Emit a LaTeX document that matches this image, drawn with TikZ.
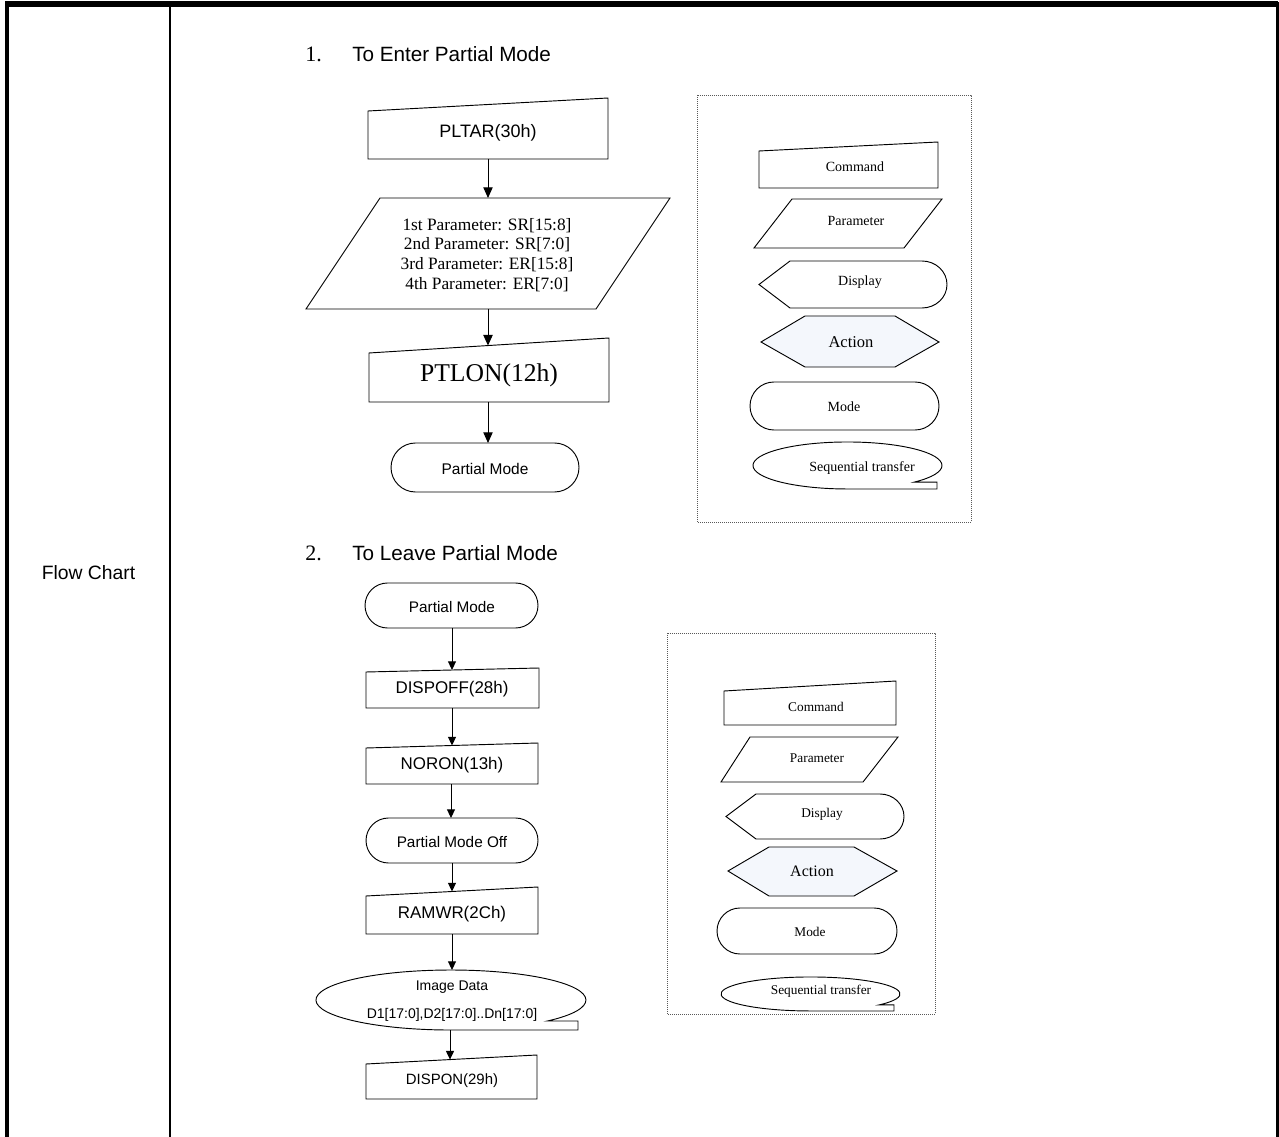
\documentclass[tikz,border=0pt]{standalone}
\usepackage{fontspec}
\setmainfont{Liberation Serif}
\newfontfamily\arialf{Liberation Sans}
\usetikzlibrary{arrows.meta}
\definecolor{actfill}{RGB}{244,247,252}
\begin{document}
\begin{tikzpicture}[x=0.75pt,y=-0.75pt,
  shp/.style={draw=black, line width=0.7pt, fill=white, line join=miter},
  arr/.style={line width=0.7pt, -{Triangle[length=8pt,width=7pt]}},
  arrs/.style={line width=0.7pt, -{Triangle[length=6.5pt,width=6pt]}},
  lbl/.style={inner sep=0pt, anchor=center},
  dotbox/.style={draw=black!65, line width=0.6pt, dash pattern=on 0.6pt off 0.9pt},
  sans/.style={font=\arialf\fontsize{#1}{#1}\selectfont},
  serif/.style={font=\fontsize{#1}{#1}\selectfont}]
\useasboundingbox (0,0) rectangle (1279,1137);
\fill[white] (0,0) rectangle (1279,1137);

% ---------- table frame ----------
\draw[line width=4.2pt] (5,4) -- (1278,4);
\draw[line width=3pt] (7,2) -- (7,1137);
\draw[line width=2.6pt] (1277.5,2) -- (1277.5,1137);
\draw[line width=1.5pt] (170,4) -- (170,1137);
\node[lbl, sans=14.5] (fc) at (88.5,573) {Flow Chart};

% ---------- headings ----------
\node[inner sep=0pt, anchor=base west, serif=16.5] (h1n) at (305,62) {1.};
\node[inner sep=0pt, anchor=base west, sans=15.5] (h1t) at (352,62) {To Enter Partial Mode};
\node[inner sep=0pt, anchor=base west, serif=16.5] (h2n) at (305,561) {2.};
\node[inner sep=0pt, anchor=base west, sans=15.5] (h2t) at (352,561) {To Leave Partial Mode};

% ---------- flow chart 1 ----------
\draw[shp] (368,111) -- (608,98) -- (608,159) -- (368,159) -- cycle;
\node[lbl, sans=13.5] (pltar) at (488,133) {PLTAR(30h)};
\coordinate (pltarB) at (488,159);

\draw[shp] (380,198) -- (670,198) -- (596,309) -- (306,309) -- cycle;
\node[lbl, align=center, font=\fontsize{13}{14.8}\selectfont] (par) at (487,255)
  {1st Parameter: SR[15:8]\\2nd Parameter: SR[7:0]\\3rd Parameter: ER[15:8]\\4th Parameter: ER[7:0]};
\coordinate (parT) at (488,198);
\coordinate (parB) at (488,309);

\draw[shp] (369,353) -- (609,338) -- (609,402) -- (369,402) -- cycle;
\node[lbl, serif=19.2] (ptlon) at (489,375) {PTLON(12h)};
\coordinate (ptlonT) at (488,345.6);
\coordinate (ptlonB) at (488,402);

\draw[shp, rounded corners=18.4pt] (391,443) rectangle (579,492);
\node[lbl, sans=11.6] (pm1) at (485,469) {Partial Mode};
\coordinate (pm1T) at (488,443);

\draw[arr] (pltarB) -- (parT);
\draw[arr] (parB) -- (ptlonT);
\draw[arr] (ptlonB) -- (pm1T);

% ---------- legend 1 ----------
\draw[dotbox] (697,95) rectangle (971,522);
\draw[shp] (759,151) -- (938,142) -- (938,188) -- (759,188) -- cycle;
\node[lbl, serif=10.5] (lc1) at (855,167) {Command};
\draw[shp] (792,199) -- (942,199) -- (904,248) -- (754,248) -- cycle;
\node[lbl, serif=10.5] (lp1) at (856,221) {Parameter};
\draw[shp] (759,284.5) -- (790,261) -- (922,261)
  arc[start angle=90, end angle=-90, x radius=18.75pt, y radius=17.625pt]
  -- (790,308) -- cycle;
\node[lbl, serif=10.5] (ld1) at (860,282) {Display};
\draw[shp, fill=actfill] (761,342) -- (805,316) -- (895,316) -- (939,342) -- (895,367) -- (805,367) -- cycle;
\node[lbl, serif=12.4] (la1) at (851,342) {Action};
\draw[shp, rounded corners=18pt] (750,382) rectangle (939,430);
\node[lbl, serif=10.5] (lm1) at (844,407) {Mode};
\draw[shp] (914.3,482.1) arc[start angle=-45, end angle=270, x radius=70.875pt, y radius=17.625pt]
  -- (937,489) -- (937,482.1) -- cycle;
\node[lbl, serif=10.5] (ls1) at (862,468) {Sequential transfer};

% ---------- flow chart 2 ----------
\draw[shp, rounded corners=16.9pt] (365,583) rectangle (538,628);
\node[lbl, sans=11.5] (pm2) at (452,607) {Partial Mode};
\coordinate (pm2B) at (452,628);

\draw[shp] (366,672) -- (539,668) -- (539,708) -- (366,708) -- cycle;
\node[lbl, sans=12.7] (dispoff) at (452,689) {DISPOFF(28h)};
\coordinate (dispoffT) at (452,670);
\coordinate (dispoffB) at (452,708);

\draw[shp] (366,748) -- (538,743) -- (538,784) -- (366,784) -- cycle;
\node[lbl, sans=12.7] (noron) at (452,765) {NORON(13h)};
\coordinate (noronT) at (452,745.5);
\coordinate (noronB) at (451,784);

\draw[shp, rounded corners=16.9pt] (366,818) rectangle (538,863);
\node[lbl, sans=11.5] (pmo) at (452,842) {Partial Mode Off};
\coordinate (pmoT) at (451,818);
\coordinate (pmoB) at (452,863);

\draw[shp] (366,896) -- (538,887) -- (538,934) -- (366,934) -- cycle;
\node[lbl, sans=12.7] (ramwr) at (452,914) {RAMWR(2Ch)};
\coordinate (ramwrT) at (452,891.5);
\coordinate (ramwrB) at (452,934);

\draw[shp] (547.4,1021) arc[start angle=-44.4, end angle=270, x radius=101.25pt, y radius=22.5pt]
  -- (578,1030) -- (578,1021) -- cycle;
\node[lbl, sans=10.5] (img1) at (452,987) {Image Data};
\node[lbl, sans=10.5] (img2) at (452,1015) {D1[17:0],D2[17:0]..Dn[17:0]};
\coordinate (imgT) at (452,970);
\coordinate (imgB) at (450,1030);

\draw[shp] (366,1064) -- (537,1055) -- (537,1099) -- (366,1099) -- cycle;
\node[lbl, sans=11.2] (dispon) at (452,1081) {DISPON(29h)};
\coordinate (disponT) at (450,1059.6);

\draw[arrs] (pm2B) -- (dispoffT);
\draw[arrs] (dispoffB) -- (noronT);
\draw[arrs] (noronB) -- (pmoT);
\draw[arrs] (pmoB) -- (ramwrT);
\draw[arrs] (ramwrB) -- (imgT);
\draw[arrs] (imgB) -- (disponT);

% ---------- legend 2 ----------
\draw[dotbox] (667,633) rectangle (935,1014);
\draw[shp] (724,691) -- (896,681) -- (896,725) -- (724,725) -- cycle;
\node[lbl, serif=10] (lc2) at (816,707) {Command};
\draw[shp] (750,737) -- (898,737) -- (863,782) -- (721,782) -- cycle;
\node[lbl, serif=10] (lp2) at (817,758) {Parameter};
\draw[shp] (726,816.5) -- (756,794) -- (880,794)
  arc[start angle=90, end angle=-90, x radius=18pt, y radius=16.875pt]
  -- (756,839) -- cycle;
\node[lbl, serif=10] (ld2) at (822,814) {Display};
\draw[shp, fill=actfill] (728,871) -- (769,847) -- (854,847) -- (897,871) -- (854,896) -- (769,896) -- cycle;
\node[lbl, serif=12] (la2) at (812,871) {Action};
\draw[shp, rounded corners=17.25pt] (717,908) rectangle (897,954);
\node[lbl, serif=10] (lm2) at (810,932) {Mode};
\draw[shp] (879.1,1004.9) arc[start angle=-40, end angle=270, x radius=67.125pt, y radius=12.75pt]
  -- (894,1011) -- (894,1004.9) -- cycle;
\node[lbl, serif=10] (ls2) at (821,991) {Sequential transfer};
\end{tikzpicture}
\end{document}
